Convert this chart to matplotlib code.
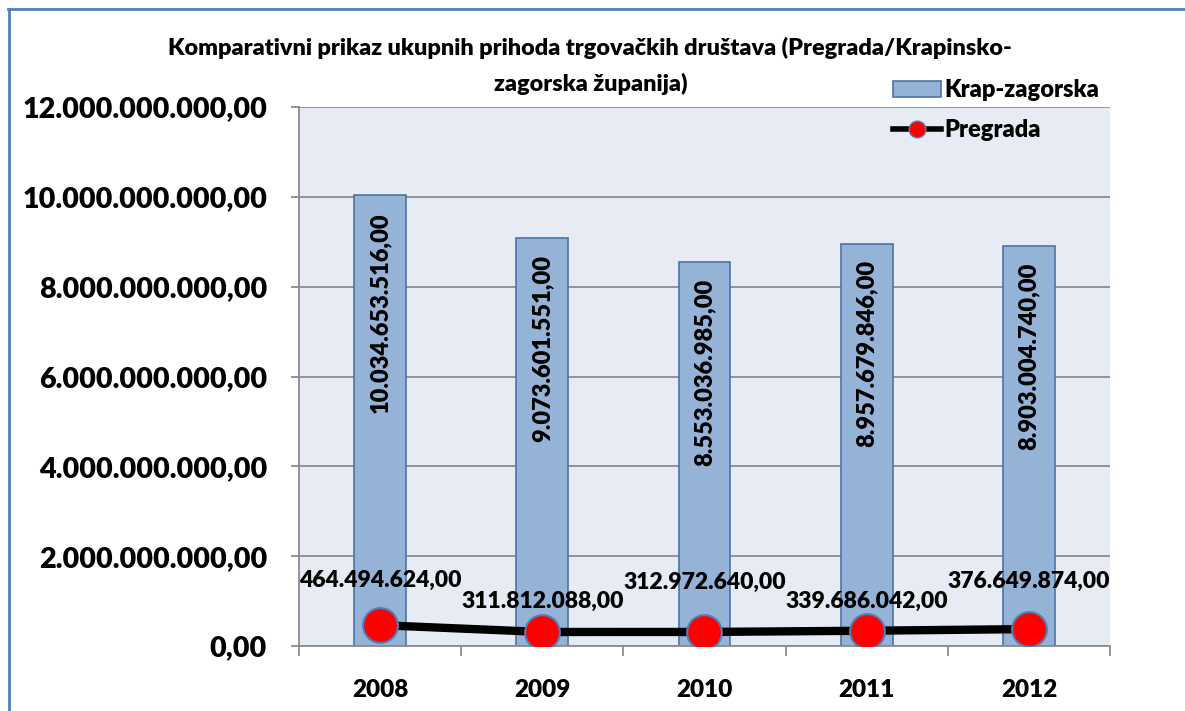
import matplotlib
matplotlib.use("Agg")
import matplotlib.pyplot as plt
from matplotlib.ticker import FuncFormatter
from matplotlib.patches import Rectangle
from matplotlib.lines import Line2D

plt.rcParams['font.family'] = ['Lato', 'DejaVu Sans']
W = "heavy"
plt.rcParams['font.weight'] = W

years = ["2008", "2009", "2010", "2011", "2012"]
krap_zagorska = [10034653516.00, 9073601551.00, 8553036985.00, 8957679846.00, 8903004740.00]
pregrada = [464494624.00, 311812088.00, 312972640.00, 339686042.00, 376649874.00]
title_lines = ["Komparativni prikaz ukupnih prihoda trgovačkih društava (Pregrada/Krapinsko-",
               "zagorska županija)"]


def fmt_hr(v, pos=None):
    s = f"{v:,.2f}"
    return s.replace(",", "X").replace(".", ",").replace("X", ".")


fig = plt.figure(figsize=(11.85, 7.11), dpi=100)
fig.patch.set_facecolor("white")
ax = fig.add_axes([299/1185, 1-646/711, (1110-299)/1185, (646-107)/711])
ax.set_facecolor("#e7ecf4")

x = list(range(len(years)))
ax.bar(x, krap_zagorska, width=0.32, color="#95b3d7", edgecolor="#4a74a8", linewidth=1.2, zorder=2)
ax.plot(x, pregrada, color="black", linewidth=6, marker="o", markersize=25,
        markerfacecolor="#ff0000", markeredgecolor="#4f7fb8", markeredgewidth=1.5, zorder=4,
        solid_joinstyle="round")

ax.set_ylim(0, 12e9)
ax.set_xlim(-0.5, len(years) - 0.5)
ax.set_yticks([i * 2e9 for i in range(7)])
ax.yaxis.set_major_formatter(FuncFormatter(fmt_hr))
ax.grid(axis="y", color="#8c8c8c", linewidth=1.3, zorder=1)
ax.set_axisbelow(True)

ax.set_xticks(x)
ax.set_xticklabels(years)
ax.set_xticks([i - 0.5 for i in range(len(years) + 1)], minor=True)
ax.tick_params(axis="x", which="major", length=0, pad=24, labelsize=17.5)
ax.tick_params(axis="x", which="minor", length=7, color="#8c8c8c", width=1.3)
ax.tick_params(axis="y", length=6, color="#8c8c8c", width=1.3, pad=17, labelsize=20.7)
for lab in ax.get_xticklabels() + ax.get_yticklabels():
    lab.set_fontweight(W)

for s in ["top", "right"]:
    ax.spines[s].set_visible(False)
for s in ["left", "bottom"]:
    ax.spines[s].set_color("#8c8c8c")
    ax.spines[s].set_linewidth(1.3)

# bar value labels (rotated, inside end)
for xi, v in zip(x, krap_zagorska):
    ax.annotate(fmt_hr(v), (xi, v), xytext=(0, -12), textcoords="offset points",
                rotation=90, ha="center", va="top", fontsize=17, fontweight=W, zorder=5)

# pregrada labels (alternating heights)
offs = [32, 22, 36, 21, 34]
for xi, v, o in zip(x, pregrada, offs):
    ax.annotate(fmt_hr(v), (xi, v), xytext=(0, o), textcoords="offset points",
                ha="center", va="center", fontsize=16.5, fontweight=W, zorder=5)

fig.text(590/1185, 1-48/711, title_lines[0], ha="center", va="center", fontsize=16.8, fontweight=W)
fig.text(591/1185, 1-84/711, title_lines[1], ha="center", va="center", fontsize=16.8, fontweight=W)

handles = [Rectangle((0, 0), 1, 1, facecolor="#95b3d7", edgecolor="#4a74a8", linewidth=1.2),
           Line2D([0], [0], color="black", linewidth=4, marker="o", markersize=12,
                  markerfacecolor="#ff0000", markeredgecolor="#4f7fb8")]
fig.legend(handles, ["Krap-zagorska", "Pregrada"], loc="upper left",
           bbox_to_anchor=(884/1185, 1-70/711), frameon=False,
           prop={"weight": W, "size": 17}, handlelength=2.0, handletextpad=0.15,
           labelspacing=0.75, borderaxespad=0)

# outer frame lines (top and left)
fig.add_artist(Line2D([8/1185, 1], [1-9/711, 1-9/711], color="#4f81bd", linewidth=2))
fig.add_artist(Line2D([9/1185, 9/1185], [0, 1-9/711], color="#4f81bd", linewidth=2))

fig.savefig("out.png", dpi=100)
